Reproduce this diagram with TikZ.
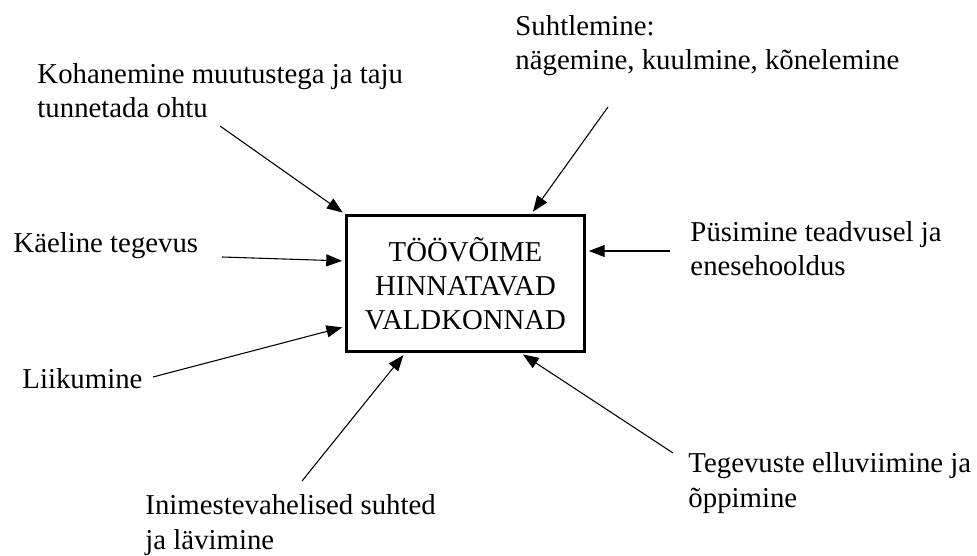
\documentclass[tikz,border=0pt]{standalone}
\usepackage{fontspec}
\setmainfont{Liberation Serif}
\usepackage{tikz}
\usetikzlibrary{arrows.meta, calc}

\begin{document}
\begin{tikzpicture}[
    x=0.01465cm, y=-0.01465cm,
    font=\fontsize{12}{14.2}\selectfont,
    factor/.style={anchor=base west, align=left, inner sep=0pt},
    core/.style={draw, line width=1.25pt, minimum width=3.472cm, minimum height=1.978cm, align=center, inner sep=0pt},
    link/.style={-{Triangle[length=6.6pt, width=5pt]}, line width=0.45pt, shorten >=1.4pt}
]
    \useasboundingbox (0,0) rectangle (977,556);

    % Central box
    \node[core] (box) at (465.5,283.5) {TÖÖVÕIME\\HINNATAVAD\\VALDKONNAD};

    % Factors (base = last line)
    \node[factor] (kohan) at (37,118) {Kohanemine muutustega ja taju\\tunnetada ohtu};
    \node[factor] (suhtl) at (515,70) {Suhtlemine:\\nägemine, kuulmine, kõnelemine};
    \node[factor] (kaeline) at (13,253) {Käeline tegevus};
    \node[factor] (pusim) at (690,276) {Püsimine teadvusel ja\\enesehooldus};
    \node[factor] (liik) at (22,389) {Liikumine};
    \node[factor] (inim) at (145,549) {Inimestevahelised suhted\\ja lävimine};
    \node[factor] (tegev) at (688,507) {Tegevuste elluviimine ja\\õppimine};

    % Arrow tails
    \coordinate (kohan-t) at (220,126);
    \coordinate (suhtl-t) at (608,107);
    \coordinate (kaeline-t) at (222,257);
    \coordinate (pusim-t) at (670,251);
    \coordinate (liik-t) at (153,377);
    \coordinate (inim-t) at (302,481);
    \coordinate (tegev-t) at (673,453);

    % Arrows
    \draw[link] (kohan-t) -- (box.north west);
    \draw[link] (suhtl-t) -- ($(box.north)+(65.5,0)$);
    \draw[link] (kaeline-t) -- ($(box.west)+(0,-22.5)$);
    \draw[link] (pusim-t) -- ($(box.east)+(0,-32.5)$);
    \draw[link] (liik-t) -- ($(box.west)+(0,43)$);
    \draw[link] (inim-t) -- ($(box.south)+(-60,0)$);
    \draw[link] (tegev-t) -- ($(box.south)+(54.5,0)$);
\end{tikzpicture}
\end{document}
